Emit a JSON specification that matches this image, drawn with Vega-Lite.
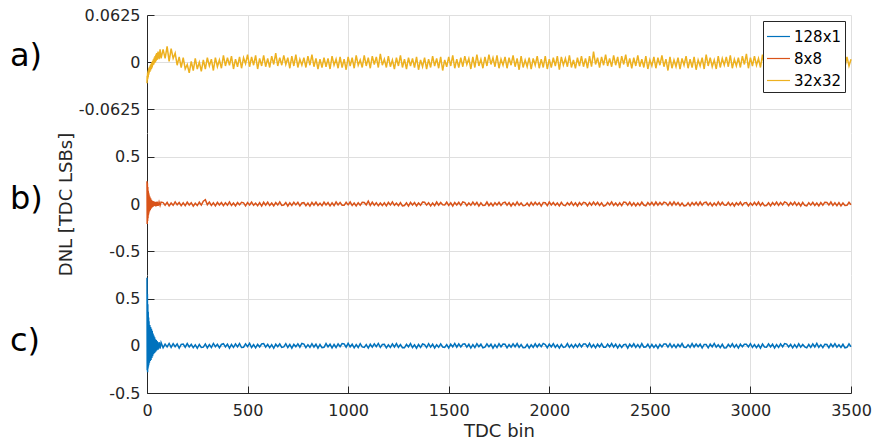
{
  "$schema": "https://vega.github.io/schema/vega-lite/v6.json",
  "background": "white",
  "padding": {"left": 10, "top": 7, "right": 5, "bottom": 5},
  "spacing": 0,
  "bounds": "flush",
  "config": {
    "font": "DejaVu Sans",
    "view": {"stroke": null},
    "axis": {"labelFont": "DejaVu Sans", "labelFontSize": 16, "labelColor": "#262626", "titleFont": "DejaVu Sans", "titleFontSize": 18, "titleFontWeight": "normal", "titleColor": "#262626", "domainColor": "#262626", "tickColor": "#262626", "gridColor": "#dfdfdf", "gridWidth": 1, "tickWidth": 1, "domainWidth": 1, "labelFlush": false}
  },
  "resolve": {"legend": {"color": "independent"}},
  "datasets": {
    "dnl": [
      {"x":0,"a":-0.028,"b":0.24,"c":0.72},
      {"x":1,"a":-0.018,"b":-0.21,"c":-0.26},
      {"x":2,"a":-0.024,"b":0.22,"c":0.55},
      {"x":3,"a":-0.014,"b":-0.18,"c":-0.28},
      {"x":4,"a":-0.022,"b":0.18,"c":0.44},
      {"x":5,"a":-0.012,"b":-0.15,"c":-0.24},
      {"x":6,"a":-0.02,"b":0.14,"c":0.36},
      {"x":7,"a":-0.01,"b":-0.12,"c":-0.22},
      {"x":8,"a":-0.017,"b":0.12,"c":0.3},
      {"x":9,"a":-0.008,"b":-0.1,"c":-0.2},
      {"x":10,"a":-0.015,"b":0.1,"c":0.26},
      {"x":12,"a":-0.006,"b":-0.08,"c":-0.18},
      {"x":14,"a":-0.013,"b":0.08,"c":0.22},
      {"x":16,"a":-0.004,"b":-0.065,"c":-0.16},
      {"x":18,"a":-0.011,"b":0.06,"c":0.2},
      {"x":20,"a":-0.002,"b":-0.05,"c":-0.15},
      {"x":22,"a":-0.009,"b":0.045,"c":0.18},
      {"x":24,"a":0.0,"b":-0.04,"c":-0.13},
      {"x":26,"a":-0.007,"b":0.035,"c":0.16},
      {"x":28,"a":0.002,"b":-0.03,"c":-0.11},
      {"x":30,"a":-0.004,"b":0.03,"c":0.13},
      {"x":32,"a":0.004,"b":-0.025,"c":-0.09},
      {"x":34,"a":-0.003,"b":0.025,"c":0.11},
      {"x":36,"a":0.006,"b":-0.02,"c":-0.08},
      {"x":38,"a":-0.001,"b":0.025,"c":0.09},
      {"x":40,"a":0.008,"b":-0.02,"c":-0.07},
      {"x":42,"a":0.0,"b":0.02,"c":0.07},
      {"x":44,"a":0.01,"b":-0.025,"c":-0.06},
      {"x":46,"a":0.002,"b":0.02,"c":0.06},
      {"x":48,"a":0.012,"b":-0.02,"c":-0.05},
      {"x":50,"a":0.003,"b":0.025,"c":0.05},
      {"x":55,"a":0.014,"b":-0.02,"c":-0.04},
      {"x":60,"a":0.004,"b":0.02,"c":0.04},
      {"x":65,"a":0.017,"b":-0.015,"c":-0.03},
      {"x":70,"a":0.005,"b":0.02,"c":0.035},
      {"x":80,"a":0.017,"b":0.015,"c":-0.02},
      {"x":90,"a":0.005,"b":-0.012,"c":0.018},
      {"x":100,"a":0.021,"b":0.018,"c":-0.012},
      {"x":110,"a":0.001,"b":-0.02,"c":0.025},
      {"x":120,"a":0.018,"b":0.01,"c":-0.016},
      {"x":130,"a":0.005,"b":-0.014,"c":0.022},
      {"x":140,"a":0.012,"b":0.022,"c":-0.01},
      {"x":150,"a":-0.004,"b":-0.009,"c":0.02},
      {"x":160,"a":0.007,"b":0.016,"c":-0.024},
      {"x":170,"a":-0.007,"b":-0.018,"c":0.014},
      {"x":180,"a":0.006,"b":0.012,"c":0.018},
      {"x":190,"a":-0.009,"b":-0.018,"c":-0.015},
      {"x":200,"a":-0.003,"b":0.02,"c":0.024},
      {"x":210,"a":-0.014,"b":-0.01,"c":-0.012},
      {"x":220,"a":0.001,"b":0.014,"c":0.016},
      {"x":230,"a":-0.011,"b":-0.022,"c":-0.02},
      {"x":240,"a":0.005,"b":0.008,"c":0.01},
      {"x":250,"a":-0.009,"b":-0.016,"c":-0.026},
      {"x":260,"a":0.0,"b":0.019,"c":0.015},
      {"x":270,"a":-0.012,"b":-0.012,"c":-0.018},
      {"x":280,"a":0.003,"b":0.03,"c":-0.014},
      {"x":290,"a":-0.009,"b":0.045,"c":0.02},
      {"x":300,"a":0.006,"b":-0.008,"c":-0.022},
      {"x":310,"a":-0.005,"b":0.02,"c":0.012},
      {"x":320,"a":0.004,"b":-0.015,"c":-0.018},
      {"x":330,"a":-0.011,"b":0.012,"c":0.025},
      {"x":340,"a":0.006,"b":-0.02,"c":-0.01},
      {"x":350,"a":-0.006,"b":0.018,"c":0.016},
      {"x":360,"a":0.003,"b":-0.01,"c":-0.02},
      {"x":370,"a":-0.008,"b":0.016,"c":0.014},
      {"x":380,"a":0.009,"b":-0.018,"c":0.022},
      {"x":390,"a":-0.005,"b":0.014,"c":-0.012},
      {"x":400,"a":0.006,"b":-0.012,"c":0.018},
      {"x":410,"a":-0.004,"b":0.022,"c":-0.025},
      {"x":420,"a":0.008,"b":-0.016,"c":0.014},
      {"x":430,"a":-0.009,"b":0.01,"c":-0.016},
      {"x":440,"a":0.004,"b":-0.02,"c":0.02},
      {"x":450,"a":-0.006,"b":0.015,"c":-0.011},
      {"x":460,"a":0.007,"b":-0.009,"c":0.024},
      {"x":470,"a":-0.008,"b":0.018,"c":-0.018},
      {"x":480,"a":0.006,"b":0.012,"c":-0.015},
      {"x":490,"a":-0.002,"b":-0.02,"c":0.02},
      {"x":500,"a":0.01,"b":0.016,"c":-0.01},
      {"x":510,"a":-0.006,"b":-0.01,"c":0.026},
      {"x":520,"a":0.007,"b":0.021,"c":-0.018},
      {"x":530,"a":-0.004,"b":-0.014,"c":0.012},
      {"x":540,"a":0.009,"b":0.009,"c":-0.022},
      {"x":550,"a":-0.009,"b":-0.018,"c":0.016},
      {"x":560,"a":0.005,"b":0.014,"c":-0.012},
      {"x":570,"a":-0.005,"b":-0.022,"c":0.019},
      {"x":580,"a":0.009,"b":0.018,"c":0.024},
      {"x":590,"a":-0.006,"b":-0.012,"c":-0.014},
      {"x":600,"a":0.005,"b":0.02,"c":0.016},
      {"x":610,"a":-0.007,"b":-0.016,"c":-0.02},
      {"x":620,"a":0.008,"b":0.01,"c":0.012},
      {"x":630,"a":-0.003,"b":-0.019,"c":-0.026},
      {"x":640,"a":0.012,"b":0.015,"c":0.018},
      {"x":650,"a":-0.005,"b":-0.011,"c":-0.01},
      {"x":660,"a":0.006,"b":0.022,"c":0.021},
      {"x":670,"a":-0.004,"b":-0.014,"c":-0.016},
      {"x":680,"a":0.009,"b":-0.01,"c":-0.012},
      {"x":690,"a":-0.003,"b":0.016,"c":0.022},
      {"x":700,"a":0.006,"b":-0.021,"c":-0.018},
      {"x":710,"a":-0.008,"b":0.012,"c":0.014},
      {"x":720,"a":0.008,"b":-0.015,"c":-0.024},
      {"x":730,"a":-0.005,"b":0.019,"c":0.016},
      {"x":740,"a":0.01,"b":-0.009,"c":-0.011},
      {"x":750,"a":-0.007,"b":0.017,"c":0.02},
      {"x":760,"a":0.004,"b":-0.02,"c":-0.015},
      {"x":770,"a":-0.004,"b":0.011,"c":0.025},
      {"x":780,"a":0.006,"b":0.014,"c":0.018},
      {"x":790,"a":-0.007,"b":-0.018,"c":-0.02},
      {"x":800,"a":0.008,"b":0.01,"c":0.012},
      {"x":810,"a":-0.004,"b":-0.022,"c":-0.016},
      {"x":820,"a":0.01,"b":0.016,"c":0.022},
      {"x":830,"a":-0.006,"b":-0.012,"c":-0.013},
      {"x":840,"a":0.005,"b":0.02,"c":0.017},
      {"x":850,"a":-0.009,"b":-0.015,"c":-0.024},
      {"x":860,"a":0.004,"b":0.009,"c":0.014},
      {"x":870,"a":-0.007,"b":-0.017,"c":-0.019},
      {"x":880,"a":0.006,"b":0.02,"c":-0.016},
      {"x":890,"a":-0.006,"b":-0.011,"c":0.024},
      {"x":900,"a":0.005,"b":0.015,"c":-0.012},
      {"x":910,"a":-0.009,"b":-0.019,"c":0.018},
      {"x":920,"a":0.008,"b":0.012,"c":-0.022},
      {"x":930,"a":-0.004,"b":-0.016,"c":0.014},
      {"x":940,"a":0.004,"b":0.022,"c":-0.018},
      {"x":950,"a":-0.008,"b":-0.01,"c":0.02},
      {"x":960,"a":0.007,"b":0.017,"c":-0.01},
      {"x":970,"a":-0.007,"b":-0.013,"c":0.023},
      {"x":980,"a":0.004,"b":-0.014,"c":0.02},
      {"x":990,"a":-0.01,"b":0.018,"c":-0.015},
      {"x":1000,"a":0.007,"b":-0.009,"c":0.026},
      {"x":1010,"a":-0.005,"b":0.021,"c":-0.011},
      {"x":1020,"a":0.006,"b":-0.016,"c":0.017},
      {"x":1030,"a":-0.008,"b":0.011,"c":-0.021},
      {"x":1040,"a":0.009,"b":-0.02,"c":0.013},
      {"x":1050,"a":-0.004,"b":0.014,"c":-0.018},
      {"x":1060,"a":0.003,"b":-0.012,"c":0.022},
      {"x":1070,"a":-0.007,"b":0.019,"c":-0.012},
      {"x":1080,"a":0.009,"b":0.016,"c":-0.018},
      {"x":1090,"a":-0.005,"b":-0.01,"c":0.012},
      {"x":1100,"a":0.006,"b":0.03,"c":-0.024},
      {"x":1110,"a":-0.008,"b":-0.015,"c":0.016},
      {"x":1120,"a":0.008,"b":0.02,"c":-0.014},
      {"x":1130,"a":-0.003,"b":-0.012,"c":0.021},
      {"x":1140,"a":0.007,"b":0.014,"c":-0.01},
      {"x":1150,"a":-0.007,"b":-0.019,"c":0.025},
      {"x":1160,"a":0.011,"b":0.01,"c":-0.017},
      {"x":1170,"a":-0.004,"b":-0.016,"c":0.013},
      {"x":1180,"a":0.004,"b":0.012,"c":0.015},
      {"x":1190,"a":-0.007,"b":-0.02,"c":-0.022},
      {"x":1200,"a":0.008,"b":0.017,"c":0.011},
      {"x":1210,"a":-0.006,"b":-0.011,"c":-0.017},
      {"x":1220,"a":0.003,"b":0.022,"c":0.02},
      {"x":1230,"a":-0.009,"b":-0.014,"c":-0.013},
      {"x":1240,"a":0.006,"b":0.009,"c":0.024},
      {"x":1250,"a":-0.005,"b":-0.018,"c":-0.016},
      {"x":1260,"a":0.009,"b":0.015,"c":0.012},
      {"x":1270,"a":-0.007,"b":-0.021,"c":-0.02},
      {"x":1280,"a":0.004,"b":-0.016,"c":-0.021},
      {"x":1290,"a":-0.009,"b":0.013,"c":0.016},
      {"x":1300,"a":0.006,"b":-0.022,"c":-0.012},
      {"x":1310,"a":-0.005,"b":0.018,"c":0.023},
      {"x":1320,"a":0.005,"b":-0.01,"c":-0.018},
      {"x":1330,"a":-0.007,"b":0.015,"c":0.011},
      {"x":1340,"a":0.007,"b":-0.019,"c":-0.025},
      {"x":1350,"a":-0.01,"b":0.011,"c":0.014},
      {"x":1360,"a":0.003,"b":-0.014,"c":-0.016},
      {"x":1370,"a":-0.006,"b":0.02,"c":0.019},
      {"x":1380,"a":0.006,"b":0.018,"c":0.012},
      {"x":1390,"a":-0.009,"b":-0.012,"c":-0.019},
      {"x":1400,"a":0.004,"b":0.014,"c":0.022},
      {"x":1410,"a":-0.007,"b":-0.02,"c":-0.014},
      {"x":1420,"a":0.008,"b":0.011,"c":0.017},
      {"x":1430,"a":-0.005,"b":-0.017,"c":-0.023},
      {"x":1440,"a":0.005,"b":0.021,"c":0.01},
      {"x":1450,"a":-0.008,"b":-0.013,"c":-0.016},
      {"x":1460,"a":0.007,"b":0.016,"c":0.02},
      {"x":1470,"a":-0.011,"b":-0.009,"c":-0.013},
      {"x":1480,"a":0.003,"b":-0.011,"c":-0.017},
      {"x":1490,"a":-0.006,"b":0.019,"c":0.013},
      {"x":1500,"a":0.007,"b":-0.015,"c":-0.022},
      {"x":1510,"a":-0.005,"b":0.012,"c":0.018},
      {"x":1520,"a":0.009,"b":-0.021,"c":-0.011},
      {"x":1530,"a":-0.008,"b":0.016,"c":0.025},
      {"x":1540,"a":0.004,"b":-0.01,"c":-0.015},
      {"x":1550,"a":-0.007,"b":0.018,"c":0.02},
      {"x":1560,"a":0.006,"b":-0.014,"c":-0.012},
      {"x":1570,"a":-0.006,"b":0.022,"c":0.016},
      {"x":1580,"a":0.008,"b":0.015,"c":0.021},
      {"x":1590,"a":-0.003,"b":-0.018,"c":-0.014},
      {"x":1600,"a":0.005,"b":0.01,"c":0.016},
      {"x":1610,"a":-0.009,"b":-0.014,"c":-0.024},
      {"x":1620,"a":0.007,"b":0.02,"c":0.012},
      {"x":1630,"a":-0.007,"b":-0.011,"c":-0.018},
      {"x":1640,"a":0.01,"b":0.017,"c":0.023},
      {"x":1650,"a":-0.005,"b":-0.022,"c":-0.01},
      {"x":1660,"a":0.004,"b":0.012,"c":0.017},
      {"x":1670,"a":-0.008,"b":-0.016,"c":-0.021},
      {"x":1680,"a":0.007,"b":-0.013,"c":-0.014},
      {"x":1690,"a":-0.005,"b":0.021,"c":0.02},
      {"x":1700,"a":0.01,"b":-0.017,"c":-0.011},
      {"x":1710,"a":-0.003,"b":0.011,"c":0.017},
      {"x":1720,"a":0.006,"b":-0.019,"c":-0.025},
      {"x":1730,"a":-0.006,"b":0.014,"c":0.013},
      {"x":1740,"a":0.009,"b":-0.01,"c":-0.019},
      {"x":1750,"a":-0.008,"b":0.018,"c":0.022},
      {"x":1760,"a":0.004,"b":-0.016,"c":-0.012},
      {"x":1770,"a":-0.004,"b":0.012,"c":0.018},
      {"x":1780,"a":0.007,"b":0.019,"c":0.016},
      {"x":1790,"a":-0.008,"b":-0.012,"c":-0.022},
      {"x":1800,"a":0.006,"b":0.015,"c":0.012},
      {"x":1810,"a":-0.004,"b":-0.021,"c":-0.015},
      {"x":1820,"a":0.009,"b":0.01,"c":0.02},
      {"x":1830,"a":-0.006,"b":-0.016,"c":-0.011},
      {"x":1840,"a":0.005,"b":0.022,"c":0.024},
      {"x":1850,"a":-0.01,"b":-0.014,"c":-0.017},
      {"x":1860,"a":0.008,"b":0.011,"c":0.013},
      {"x":1870,"a":-0.007,"b":-0.018,"c":-0.02},
      {"x":1880,"a":0.003,"b":-0.015,"c":-0.019},
      {"x":1890,"a":-0.006,"b":0.011,"c":0.014},
      {"x":1900,"a":0.006,"b":-0.02,"c":-0.023},
      {"x":1910,"a":-0.009,"b":0.017,"c":0.011},
      {"x":1920,"a":0.005,"b":-0.012,"c":-0.016},
      {"x":1930,"a":-0.004,"b":0.019,"c":0.021},
      {"x":1940,"a":0.008,"b":-0.009,"c":-0.013},
      {"x":1950,"a":-0.008,"b":0.014,"c":0.018},
      {"x":1960,"a":0.004,"b":-0.022,"c":-0.01},
      {"x":1970,"a":-0.007,"b":0.016,"c":0.025},
      {"x":1980,"a":0.008,"b":0.013,"c":0.014},
      {"x":1990,"a":-0.009,"b":-0.017,"c":-0.02},
      {"x":2000,"a":0.004,"b":0.021,"c":0.017},
      {"x":2010,"a":-0.007,"b":-0.01,"c":-0.012},
      {"x":2020,"a":0.006,"b":0.016,"c":0.022},
      {"x":2030,"a":-0.005,"b":-0.014,"c":-0.016},
      {"x":2040,"a":0.008,"b":0.011,"c":0.011},
      {"x":2050,"a":-0.01,"b":-0.02,"c":-0.024},
      {"x":2060,"a":0.007,"b":0.018,"c":0.015},
      {"x":2070,"a":-0.004,"b":-0.012,"c":-0.018},
      {"x":2080,"a":0.005,"b":-0.018,"c":-0.012},
      {"x":2090,"a":-0.006,"b":0.014,"c":0.023},
      {"x":2100,"a":0.009,"b":-0.011,"c":-0.017},
      {"x":2110,"a":-0.007,"b":0.02,"c":0.013},
      {"x":2120,"a":0.003,"b":-0.016,"c":-0.02},
      {"x":2130,"a":-0.008,"b":0.012,"c":0.016},
      {"x":2140,"a":0.006,"b":-0.021,"c":-0.014},
      {"x":2150,"a":-0.005,"b":0.015,"c":0.021},
      {"x":2160,"a":0.008,"b":-0.01,"c":-0.011},
      {"x":2170,"a":-0.006,"b":0.017,"c":0.019},
      {"x":2180,"a":0.005,"b":0.011,"c":0.02},
      {"x":2190,"a":-0.008,"b":-0.019,"c":-0.013},
      {"x":2200,"a":0.008,"b":0.016,"c":0.025},
      {"x":2210,"a":-0.006,"b":-0.013,"c":-0.016},
      {"x":2220,"a":0.014,"b":0.021,"c":0.012},
      {"x":2230,"a":-0.003,"b":-0.01,"c":-0.021},
      {"x":2240,"a":0.006,"b":0.018,"c":0.017},
      {"x":2250,"a":-0.007,"b":-0.015,"c":-0.011},
      {"x":2260,"a":0.007,"b":0.012,"c":0.022},
      {"x":2270,"a":-0.004,"b":-0.022,"c":-0.015},
      {"x":2280,"a":0.01,"b":-0.014,"c":-0.016},
      {"x":2290,"a":-0.005,"b":0.017,"c":0.019},
      {"x":2300,"a":0.005,"b":-0.01,"c":-0.012},
      {"x":2310,"a":-0.006,"b":0.022,"c":0.024},
      {"x":2320,"a":0.009,"b":-0.015,"c":-0.014},
      {"x":2330,"a":-0.004,"b":0.011,"c":0.018},
      {"x":2340,"a":0.007,"b":-0.019,"c":-0.022},
      {"x":2350,"a":-0.008,"b":0.013,"c":0.013},
      {"x":2360,"a":0.008,"b":-0.017,"c":-0.018},
      {"x":2370,"a":-0.003,"b":0.02,"c":0.011},
      {"x":2380,"a":0.01,"b":0.016,"c":0.015},
      {"x":2390,"a":-0.006,"b":-0.012,"c":-0.024},
      {"x":2400,"a":0.005,"b":0.02,"c":0.018},
      {"x":2410,"a":-0.008,"b":-0.017,"c":-0.012},
      {"x":2420,"a":0.006,"b":0.013,"c":0.021},
      {"x":2430,"a":-0.005,"b":-0.021,"c":-0.017},
      {"x":2440,"a":0.009,"b":0.01,"c":0.013},
      {"x":2450,"a":-0.006,"b":-0.015,"c":-0.019},
      {"x":2460,"a":0.004,"b":0.019,"c":0.023},
      {"x":2470,"a":-0.007,"b":-0.011,"c":-0.014},
      {"x":2480,"a":0.008,"b":-0.02,"c":-0.013},
      {"x":2490,"a":-0.009,"b":0.015,"c":0.017},
      {"x":2500,"a":0.003,"b":-0.011,"c":-0.021},
      {"x":2510,"a":-0.005,"b":0.018,"c":0.014},
      {"x":2520,"a":0.007,"b":-0.014,"c":-0.018},
      {"x":2530,"a":-0.008,"b":0.021,"c":0.011},
      {"x":2540,"a":0.006,"b":-0.012,"c":-0.025},
      {"x":2550,"a":-0.004,"b":0.016,"c":0.016},
      {"x":2560,"a":0.009,"b":-0.009,"c":-0.012},
      {"x":2570,"a":-0.006,"b":0.019,"c":0.02},
      {"x":2580,"a":0.004,"b":0.012,"c":0.019},
      {"x":2590,"a":-0.011,"b":-0.016,"c":-0.014},
      {"x":2600,"a":0.007,"b":0.019,"c":0.022},
      {"x":2610,"a":-0.008,"b":-0.013,"c":-0.017},
      {"x":2620,"a":0.003,"b":0.022,"c":0.012},
      {"x":2630,"a":-0.006,"b":-0.01,"c":-0.02},
      {"x":2640,"a":0.006,"b":0.015,"c":0.016},
      {"x":2650,"a":-0.009,"b":-0.018,"c":-0.011},
      {"x":2660,"a":0.005,"b":0.011,"c":0.024},
      {"x":2670,"a":-0.004,"b":-0.021,"c":-0.015},
      {"x":2680,"a":0.008,"b":-0.017,"c":-0.018},
      {"x":2690,"a":-0.008,"b":0.013,"c":0.012},
      {"x":2700,"a":0.004,"b":-0.02,"c":-0.016},
      {"x":2710,"a":-0.007,"b":0.016,"c":0.023},
      {"x":2720,"a":0.007,"b":-0.011,"c":-0.013},
      {"x":2730,"a":-0.01,"b":0.018,"c":0.019},
      {"x":2740,"a":0.003,"b":-0.014,"c":-0.01},
      {"x":2750,"a":-0.005,"b":0.021,"c":0.017},
      {"x":2760,"a":0.006,"b":-0.012,"c":-0.022},
      {"x":2770,"a":-0.009,"b":0.015,"c":0.014},
      {"x":2780,"a":0.01,"b":0.019,"c":0.013},
      {"x":2790,"a":-0.005,"b":-0.012,"c":-0.021},
      {"x":2800,"a":0.006,"b":0.014,"c":0.018},
      {"x":2810,"a":-0.006,"b":-0.02,"c":-0.012},
      {"x":2820,"a":0.003,"b":0.01,"c":0.025},
      {"x":2830,"a":-0.009,"b":-0.016,"c":-0.015},
      {"x":2840,"a":0.008,"b":0.022,"c":0.011},
      {"x":2850,"a":-0.007,"b":-0.013,"c":-0.019},
      {"x":2860,"a":0.005,"b":0.017,"c":0.016},
      {"x":2870,"a":-0.004,"b":-0.011,"c":-0.023},
      {"x":2880,"a":0.007,"b":-0.012,"c":-0.02},
      {"x":2890,"a":-0.006,"b":0.018,"c":0.015},
      {"x":2900,"a":0.009,"b":-0.015,"c":-0.013},
      {"x":2910,"a":-0.008,"b":0.011,"c":0.021},
      {"x":2920,"a":0.004,"b":-0.021,"c":-0.017},
      {"x":2930,"a":-0.005,"b":0.014,"c":0.012},
      {"x":2940,"a":0.006,"b":-0.01,"c":-0.024},
      {"x":2950,"a":-0.007,"b":0.019,"c":0.018},
      {"x":2960,"a":0.008,"b":-0.016,"c":-0.011},
      {"x":2970,"a":-0.003,"b":0.012,"c":0.016},
      {"x":2980,"a":0.011,"b":0.015,"c":0.017},
      {"x":2990,"a":-0.008,"b":-0.02,"c":-0.012},
      {"x":3000,"a":0.006,"b":0.011,"c":0.022},
      {"x":3010,"a":-0.005,"b":-0.014,"c":-0.016},
      {"x":3020,"a":0.008,"b":0.018,"c":0.014},
      {"x":3030,"a":-0.004,"b":-0.012,"c":-0.02},
      {"x":3040,"a":0.005,"b":0.021,"c":0.011},
      {"x":3050,"a":-0.007,"b":-0.016,"c":-0.025},
      {"x":3060,"a":0.01,"b":0.013,"c":0.019},
      {"x":3070,"a":-0.006,"b":-0.019,"c":-0.013},
      {"x":3080,"a":0.006,"b":-0.016,"c":-0.015},
      {"x":3090,"a":-0.004,"b":0.012,"c":0.021},
      {"x":3100,"a":0.008,"b":-0.019,"c":-0.012},
      {"x":3110,"a":-0.006,"b":0.015,"c":0.018},
      {"x":3120,"a":0.003,"b":-0.011,"c":-0.023},
      {"x":3130,"a":-0.009,"b":0.02,"c":0.013},
      {"x":3140,"a":0.007,"b":-0.014,"c":-0.017},
      {"x":3150,"a":-0.005,"b":0.017,"c":0.02},
      {"x":3160,"a":0.005,"b":-0.01,"c":-0.011},
      {"x":3170,"a":-0.008,"b":0.022,"c":0.024},
      {"x":3180,"a":0.009,"b":0.013,"c":0.018},
      {"x":3190,"a":-0.006,"b":-0.018,"c":-0.013},
      {"x":3200,"a":0.004,"b":0.016,"c":0.016},
      {"x":3210,"a":-0.007,"b":-0.011,"c":-0.022},
      {"x":3220,"a":0.008,"b":0.02,"c":0.012},
      {"x":3230,"a":-0.005,"b":-0.015,"c":-0.019},
      {"x":3240,"a":0.006,"b":0.012,"c":0.021},
      {"x":3250,"a":-0.009,"b":-0.021,"c":-0.014},
      {"x":3260,"a":0.007,"b":0.017,"c":0.015},
      {"x":3270,"a":-0.004,"b":-0.014,"c":-0.011},
      {"x":3280,"a":0.009,"b":-0.019,"c":-0.022},
      {"x":3290,"a":-0.007,"b":0.014,"c":0.014},
      {"x":3300,"a":0.004,"b":-0.012,"c":-0.017},
      {"x":3310,"a":-0.009,"b":0.018,"c":0.02},
      {"x":3320,"a":0.006,"b":-0.016,"c":-0.013},
      {"x":3330,"a":-0.006,"b":0.011,"c":0.025},
      {"x":3340,"a":0.005,"b":-0.02,"c":-0.016},
      {"x":3350,"a":-0.01,"b":0.015,"c":0.012},
      {"x":3360,"a":0.006,"b":-0.013,"c":-0.019},
      {"x":3370,"a":-0.005,"b":0.019,"c":0.017},
      {"x":3380,"a":0.01,"b":0.017,"c":0.014},
      {"x":3390,"a":-0.006,"b":-0.011,"c":-0.02},
      {"x":3400,"a":0.005,"b":0.021,"c":0.019},
      {"x":3410,"a":-0.008,"b":-0.015,"c":-0.012},
      {"x":3420,"a":0.008,"b":0.012,"c":0.023},
      {"x":3430,"a":-0.005,"b":-0.018,"c":-0.015},
      {"x":3440,"a":0.004,"b":0.014,"c":0.011},
      {"x":3450,"a":-0.007,"b":-0.02,"c":-0.018},
      {"x":3460,"a":0.009,"b":0.01,"c":0.016},
      {"x":3470,"a":-0.006,"b":-0.016,"c":-0.021},
      {"x":3480,"a":0.007,"b":-0.014,"c":-0.016},
      {"x":3490,"a":-0.005,"b":0.018,"c":0.02},
      {"x":3500,"a":0.004,"b":-0.008,"c":-0.01}
    ]
  },
  "vconcat": [
    {
      "width": 704,
      "height": 118,
      "layer": [
        {
          "data": {"name": "dnl"},
          "mark": {"type": "line", "strokeWidth": 1.5, "clip": false},
          "encoding": {
            "x": {"field": "x", "type": "quantitative", "scale": {"domain": [0, 3500], "nice": false}, "axis": {"values": [0, 500, 1000, 1500, 2000, 2500, 3000, 3500], "grid": true, "labels": false, "ticks": false, "domain": false, "title": null}},
            "y": {"field": "a", "type": "quantitative", "scale": {"domain": [-0.09375, 0.0625], "nice": false, "zero": false}, "axis": {"values": [-0.0625, 0, 0.0625], "labelExpr": "'' + datum.value", "title": null, "grid": true, "tickSize": -7, "labelPadding": 14}},
            "color": {"datum": "32x32", "type": "nominal", "scale": {"domain": ["128x1", "8x8", "32x32"], "range": ["#0072BD", "#D95319", "#EDB120"]}, "legend": {"orient": "top-right", "title": null, "offset": 6, "padding": 3, "strokeColor": "#262626", "fillColor": "white", "symbolType": "stroke", "symbolSize": 529, "symbolStrokeWidth": 1.2, "labelFont": "DejaVu Sans", "labelFontSize": 15, "labelColor": "#000000", "rowPadding": 1, "labelOffset": 3}}
          }
        },
        {
          "data": {"values": [{"t": "a)"}]},
          "mark": {"type": "text", "font": "DejaVu Sans", "fontSize": 32, "align": "left", "baseline": "alphabetic", "dx": -137, "dy": 4, "color": "#000000"},
          "encoding": {"text": {"field": "t"}, "x": {"datum": 0}, "y": {"datum": 0}}
        }
      ]
    },
    {
      "width": 704,
      "height": 142,
      "layer": [
        {
          "data": {"name": "dnl"},
          "mark": {"type": "line", "strokeWidth": 1.5, "clip": false},
          "encoding": {
            "x": {"field": "x", "type": "quantitative", "scale": {"domain": [0, 3500], "nice": false}, "axis": {"values": [0, 500, 1000, 1500, 2000, 2500, 3000, 3500], "grid": true, "labels": false, "ticks": false, "domain": false, "title": null}},
            "y": {"field": "b", "type": "quantitative", "scale": {"domain": [-0.75, 0.75], "nice": false, "zero": false}, "axis": {"values": [-0.5, 0, 0.5], "labelExpr": "'' + datum.value", "title": "DNL [TDC LSBs]", "titleX": -72, "grid": true, "tickSize": -7, "labelPadding": 14}},
            "color": {"datum": "8x8", "type": "nominal", "scale": {"domain": ["128x1", "8x8", "32x32"], "range": ["#0072BD", "#D95319", "#EDB120"]}, "legend": null}
          }
        },
        {
          "data": {"values": [{"t": "b)"}]},
          "mark": {"type": "text", "font": "DejaVu Sans", "fontSize": 32, "align": "left", "baseline": "alphabetic", "dx": -137, "dy": 5, "color": "#000000"},
          "encoding": {"text": {"field": "t"}, "x": {"datum": 0}, "y": {"datum": 0}}
        }
      ]
    },
    {
      "width": 704,
      "height": 118,
      "layer": [
        {
          "data": {"name": "dnl"},
          "mark": {"type": "line", "strokeWidth": 1.5, "clip": false},
          "encoding": {
            "x": {"field": "x", "type": "quantitative", "scale": {"domain": [0, 3500], "nice": false}, "axis": {"values": [0, 500, 1000, 1500, 2000, 2500, 3000, 3500], "labelExpr": "'' + datum.value", "grid": true, "title": "TDC bin", "tickSize": -7, "labelPadding": 16, "titlePadding": 4}},
            "y": {"field": "c", "type": "quantitative", "scale": {"domain": [-0.5, 0.75], "nice": false, "zero": false}, "axis": {"values": [-0.5, 0, 0.5], "labelExpr": "'' + datum.value", "title": null, "grid": true, "tickSize": -7, "labelPadding": 14}},
            "color": {"datum": "128x1", "type": "nominal", "scale": {"domain": ["128x1", "8x8", "32x32"], "range": ["#0072BD", "#D95319", "#EDB120"]}, "legend": null}
          }
        },
        {
          "data": {"values": [{"t": "c)"}]},
          "mark": {"type": "text", "font": "DejaVu Sans", "fontSize": 32, "align": "left", "baseline": "alphabetic", "dx": -137, "dy": 5, "color": "#000000"},
          "encoding": {"text": {"field": "t"}, "x": {"datum": 0}, "y": {"datum": 0}}
        }
      ]
    }
  ]
}
